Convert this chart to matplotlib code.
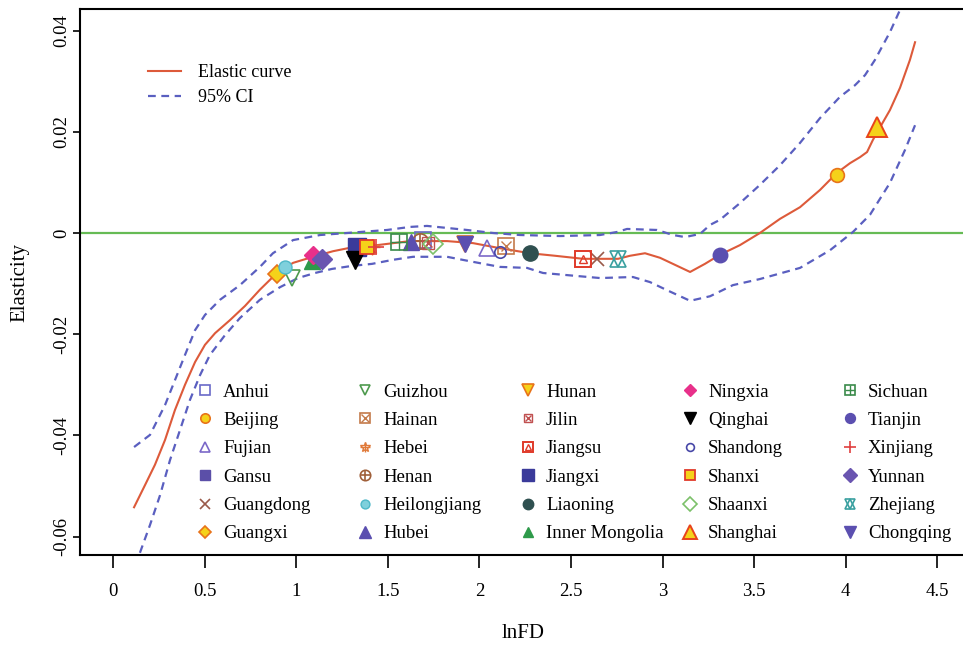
import matplotlib
matplotlib.use("Agg")
import matplotlib.pyplot as plt
from matplotlib.lines import Line2D
from matplotlib.legend import Legend
from matplotlib.legend_handler import HandlerTuple

plt.rcParams['font.family'] = ['Liberation Serif', 'DejaVu Serif']
plt.rcParams['axes.unicode_minus'] = False

# ---------------- data ----------------
curve_x = [0.115, 0.175, 0.229, 0.284, 0.338, 0.393, 0.448, 0.502, 0.557, 0.639, 0.721, 0.802,
           0.895, 0.983, 1.092, 1.201, 1.310, 1.441, 1.621, 1.823, 1.965, 2.112, 2.276, 2.413,
           2.566, 2.757, 2.822, 2.904, 2.986, 3.068, 3.150, 3.231, 3.313, 3.422, 3.531, 3.641,
           3.750, 3.859, 3.952, 4.023, 4.078, 4.116, 4.148, 4.187, 4.241, 4.296, 4.350, 4.378]
curve_y = [-0.0542, -0.0498, -0.0458, -0.0409, -0.0350, -0.0300, -0.0255, -0.0221, -0.0198,
           -0.0172, -0.0144, -0.0112, -0.0079, -0.0059, -0.0047, -0.0036, -0.0028, -0.0024,
           -0.0016, -0.0016, -0.0020, -0.0030, -0.0040, -0.0045, -0.0051, -0.0051, -0.0045,
           -0.0040, -0.0049, -0.0063, -0.0077, -0.0061, -0.0043, -0.0024, 0.0000, 0.0028,
           0.0051, 0.0085, 0.0119, 0.0138, 0.0150, 0.0160, 0.0184, 0.0209, 0.0243, 0.0287,
           0.0342, 0.0377]

upper_x = [0.115, 0.202, 0.284, 0.338, 0.393, 0.448, 0.502, 0.584, 0.693, 0.802, 0.873, 0.983,
           1.130, 1.277, 1.496, 1.621, 1.714, 1.823, 1.932, 2.074, 2.222, 2.440, 2.658, 2.751,
           2.806, 2.969, 3.057, 3.122, 3.204, 3.259, 3.313, 3.422, 3.531, 3.641, 3.750, 3.859,
           3.968, 4.050, 4.105, 4.159, 4.241, 4.296]
upper_y = [-0.0423, -0.0399, -0.0340, -0.0291, -0.0241, -0.0192, -0.0162, -0.0132, -0.0103,
           -0.0067, -0.0040, -0.0014, -0.0004, 0.0000, 0.0006, 0.0012, 0.0014, 0.0010, 0.0006,
           0.0000, -0.0004, -0.0006, -0.0004, 0.0002, 0.0008, 0.0006, -0.0004, -0.0008,
           -0.0002, 0.0016, 0.0026, 0.0059, 0.0095, 0.0134, 0.0178, 0.0227, 0.0269, 0.0292,
           0.0312, 0.0342, 0.0397, 0.0441]

lower_x = [0.147, 0.202, 0.257, 0.311, 0.366, 0.420, 0.475, 0.529, 0.611, 0.693, 0.802, 0.912,
           1.010, 1.103, 1.195, 1.305, 1.414, 1.528, 1.638, 1.823, 1.965, 2.112, 2.260, 2.347,
           2.658, 2.838, 2.931, 3.024, 3.150, 3.259, 3.384, 3.531, 3.750, 3.914, 4.039, 4.132,
           4.241, 4.323, 4.378]
lower_y = [-0.0632, -0.0577, -0.0518, -0.0449, -0.0389, -0.0330, -0.0281, -0.0241, -0.0202,
           -0.0168, -0.0132, -0.0107, -0.0089, -0.0079, -0.0071, -0.0065, -0.0061, -0.0053,
           -0.0047, -0.0047, -0.0057, -0.0067, -0.0069, -0.0079, -0.0089, -0.0087, -0.0097,
           -0.0113, -0.0134, -0.0125, -0.0103, -0.0091, -0.0069, -0.0034, 0.0002, 0.0036,
           0.0099, 0.0164, 0.0213]

provinces = ['Anhui', 'Beijing', 'Fujian', 'Gansu', 'Guangdong', 'Guangxi',
             'Guizhou', 'Hainan', 'Hebei', 'Henan', 'Heilongjiang', 'Hubei',
             'Hunan', 'Jilin', 'Jiangsu', 'Jiangxi', 'Liaoning', 'Inner Mongolia',
             'Ningxia', 'Qinghai', 'Shandong', 'Shanxi', 'Shaanxi', 'Shanghai',
             'Sichuan', 'Tianjin', 'Xinjiang', 'Yunnan', 'Zhejiang', 'Chongqing']
prov_x = [1.692, 3.952, 2.041, 1.337, 2.642, 0.895,
          0.977, 2.145, 1.414, 1.676, 0.939, 1.627,
          1.921, 1.719, 2.566, 1.332, 2.276, 1.086,
          1.092, 1.321, 2.112, 1.386, 1.747, 4.170,
          1.561, 3.313, 1.436, 1.141, 2.757, 1.921]
prov_y = [-0.0014, 0.0115, -0.0030, -0.0028, -0.0051, -0.0081,
          -0.0089, -0.0026, -0.0028, -0.0016, -0.0067, -0.0018,
          -0.0022, -0.0020, -0.0051, -0.0028, -0.0040, -0.0055,
          -0.0043, -0.0053, -0.0038, -0.0028, -0.0022, 0.0209,
          -0.0018, -0.0043, -0.0028, -0.0051, -0.0051, -0.0022]

x_ticks = [0, 0.5, 1, 1.5, 2, 2.5, 3, 3.5, 4, 4.5]
x_ticklabels = ['0', '0.5', '1', '1.5', '2', '2.5', '3', '3.5', '4', '4.5']
y_ticks = [-0.06, -0.04, -0.02, 0, 0.02, 0.04]
y_ticklabels = ['-0.06', '-0.04', '-0.02', '0', '0.02', '0.04']

# ---------------- styles ----------------
PUR = '#5B4FB0'
# each style: list of marker layers (marker, size, facecolor, edgecolor, edgewidth)
styles = {
    'Anhui':        [('s', 1.0, 'none', '#6A6AC8', 1.2)],
    'Beijing':      [('o', 0.9, '#F5D21A', '#E8731A', 1.2)],
    'Fujian':       [('^', 1.0, 'none', '#7B68C8', 1.2)],
    'Gansu':        [('s', 1.0, '#5B4FA8', '#5B4FA8', 1.0)],
    'Guangdong':    [('x', 0.9, 'none', '#9A5A4A', 1.2)],
    'Guangxi':      [('D', 0.85, '#F5D21A', '#E8731A', 1.2)],
    'Guizhou':      [('v', 1.0, 'none', '#4E9A4E', 1.2)],
    'Hainan':       [('s', 1.0, 'none', '#C47A4A', 1.2), ('x', 0.7, 'none', '#C47A4A', 1.0)],
    'Hebei':        [('*', 1.0, 'none', '#E07A3A', 1.0), ('+', 1.0, 'none', '#E07A3A', 1.0)],
    'Henan':        [('o', 1.0, 'none', '#A0603A', 1.2), ('+', 1.0, 'none', '#A0603A', 1.2)],
    'Heilongjiang': [('o', 0.85, '#7FD0DC', '#4FB8C8', 1.0)],
    'Hubei':        [('^', 1.1, PUR, PUR, 1.0)],
    'Hunan':        [('v', 1.1, '#F5D21A', '#E8731A', 1.2)],
    'Jilin':        [('s', 0.8, 'none', '#C05050', 1.0), ('x', 0.55, 'none', '#C05050', 1.0)],
    'Jiangsu':      [('s', 1.0, 'none', '#E03A2A', 1.4), ('^', 0.5, 'none', '#E03A2A', 1.0)],
    'Jiangxi':      [('s', 1.15, '#3A3A9A', '#3A3A9A', 1.0)],
    'Liaoning':     [('o', 1.0, '#2F5050', '#2F5050', 1.0)],
    'Inner Mongolia': [('^', 1.0, '#2E9A4A', '#2E9A4A', 1.0)],
    'Ningxia':      [('D', 0.8, '#E8308A', '#E8308A', 1.0)],
    'Qinghai':      [('v', 1.2, 'black', 'black', 1.0)],
    'Shandong':     [('o', 0.75, 'none', '#4848A8', 1.2)],
    'Shanxi':       [('s', 0.95, '#F5D21A', '#E03A2A', 1.3)],
    'Shaanxi':      [('D', 0.9, 'none', '#7CC06A', 1.2)],
    'Shanghai':     [('^', 1.3, '#F5D21A', '#E8431A', 1.4)],
    'Sichuan':      [('s', 1.0, 'none', '#3A8A4A', 1.2), ('+', 1.0, 'none', '#3A8A4A', 1.0)],
    'Tianjin':      [('o', 0.95, PUR, PUR, 1.0)],
    'Xinjiang':     [('+', 1.1, 'none', '#E04040', 1.2)],
    'Yunnan':       [('D', 0.9, '#6A55B0', '#6A55B0', 1.0)],
    'Zhejiang':     [('^', 1.0, 'none', '#3AA0A0', 1.2), ('v', 1.0, 'none', '#3AA0A0', 1.2)],
    'Chongqing':    [('v', 1.1, PUR, PUR, 1.0)],
}

RED = '#DD5A3A'
BLUE = '#5A5FC0'
GREEN = '#66BB55'

W, H = 963, 646
fig = plt.figure(figsize=(W / 100, H / 100), dpi=100)
ax_l, ax_r, ax_t, ax_b = 80, 965, 9, 555
ax = fig.add_axes([ax_l / W, (H - ax_b) / H, (ax_r - ax_l) / W, (ax_b - ax_t) / H])

ax.axhline(0, color=GREEN, lw=1.6, zorder=1)
ax.plot(curve_x, curve_y, color=RED, lw=1.5, zorder=2)
ax.plot(upper_x, upper_y, color=BLUE, lw=1.6, ls=(0, (3.5, 2.5)), zorder=2)
ax.plot(lower_x, lower_y, color=BLUE, lw=1.6, ls=(0, (3.5, 2.5)), zorder=2)

PLOT_MS = 11
for name, px, py in zip(provinces, prov_x, prov_y):
    for (m, s, fc, ec, ew) in styles[name]:
        ax.plot([px], [py], ls='none', marker=m, ms=PLOT_MS * s, mfc=fc, mec=ec, mew=ew, zorder=3)

ax.set_xlim((ax_l - 113) / 183.2, (ax_r - 113) / 183.2)
ax.set_ylim((233 - ax_b) / 5060, (233 - ax_t) / 5060)

ax.set_xticks(x_ticks)
ax.set_xticklabels(x_ticklabels, fontsize=13.5)
ax.set_yticks(y_ticks)
ax.set_yticklabels(y_ticklabels, fontsize=13.5, rotation=90, va='center')
ax.tick_params(axis='x', direction='out', length=9.5, width=1.2, pad=11)
ax.tick_params(axis='y', direction='out', length=5, width=1.2, pad=2)
for sp in ['left', 'bottom', 'top']:
    ax.spines[sp].set_linewidth(1.5)
ax.spines['right'].set_visible(False)

ax.set_xlabel('lnFD', fontsize=15)
ax.xaxis.set_label_coords((523 - ax_l) / (ax_r - ax_l), -(633 - ax_b) / (ax_b - ax_t))
ax.xaxis.label.set_va('center')
ax.set_ylabel('Elasticity', fontsize=15)
ax.yaxis.set_label_coords(-(ax_l - 20) / (ax_r - ax_l), 0.5)
ax.yaxis.label.set_va('center')

# top-left legend
h_curve = Line2D([], [], color=RED, lw=1.5)
h_ci = Line2D([], [], color=BLUE, lw=1.6, ls=(0, (3.5, 2.5)))
leg1 = Legend(ax, [h_curve, h_ci], ['Elastic curve', '95% CI'], loc='upper left',
              bbox_to_anchor=((148 - ax_l) / (ax_r - ax_l), (ax_b - 64) / (ax_b - ax_t)),
              bbox_transform=ax.transAxes,
              frameon=False, fontsize=13, handlelength=1.8, handletextpad=0.95,
              labelspacing=0.47, borderpad=0, borderaxespad=0)
ax.add_artist(leg1)

# province legend: five columns of six
LEG_MS = 7.5
col_px = [205, 365, 528, 690, 850]
fs = 13.5
fs_px = fs * 100 / 72
for c in range(5):
    handles, labels = [], []
    for name in provinces[c * 6:(c + 1) * 6]:
        layers = tuple(Line2D([], [], ls='none', marker=m, ms=LEG_MS * s, mfc=fc, mec=ec, mew=ew)
                       for (m, s, fc, ec, ew) in styles[name])
        handles.append(layers)
        labels.append(name)
    left = col_px[c] - 0.5 * fs_px
    lg = Legend(ax, handles, labels, loc='upper left',
                bbox_to_anchor=((left - ax_l) / (ax_r - ax_l), (ax_b - 383.5) / (ax_b - ax_t)),
                bbox_transform=ax.transAxes,
                frameon=False, fontsize=fs, handlelength=1.0, handletextpad=0.46,
                labelspacing=0.60, borderpad=0, borderaxespad=0,
                handler_map={tuple: HandlerTuple(ndivide=1, pad=0)})
    ax.add_artist(lg)

fig.savefig('out.png', dpi=100)
